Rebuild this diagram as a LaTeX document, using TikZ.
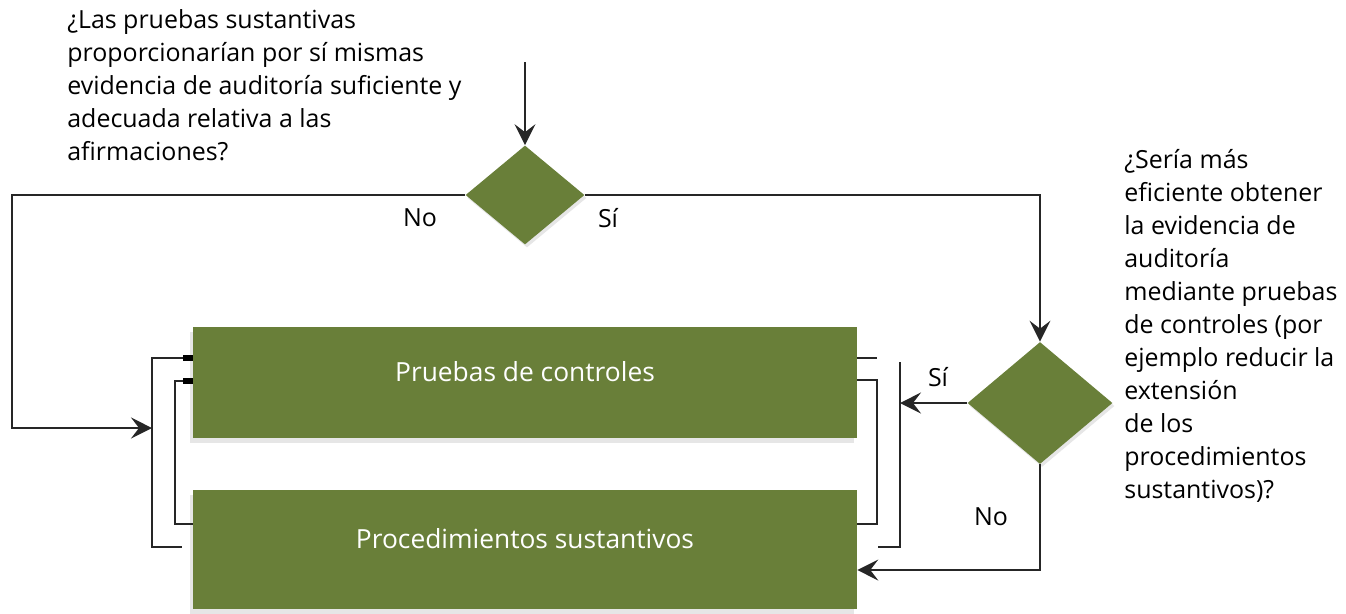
\documentclass[tikz,border=0pt]{standalone}
\usepackage{fontspec}
\setmainfont{Open Sans}
\usetikzlibrary{shapes.geometric,arrows.meta,shadows}

\definecolor{olivo}{RGB}{105,127,57}

\begin{document}
\begin{tikzpicture}[x=0.02cm, y=-0.02cm, font=\fontsize{14.2}{18.8}\selectfont,
    caja/.style={fill=olivo, text=white, minimum width=13.28cm, inner sep=0pt, text depth=0.45cm,
      font=\fontsize{15}{18}\selectfont,
      drop shadow={opacity=0.2, shadow xshift=-0.06cm, shadow yshift=-0.1cm}},
    rombo/.style={diamond, fill=olivo, inner sep=0pt,
      drop shadow={opacity=0.2, shadow xshift=0.04cm, shadow yshift=-0.06cm}},
    linea/.style={draw=black!85, line width=0.9pt},
    flecha/.style={linea, -{Stealth[length=4.2mm, width=4.2mm, inset=1.6mm]}},
    pregunta/.style={align=left, inner sep=0pt, anchor=north west}]

    \useasboundingbox (0,0) rectangle (1346,613);

    % cajas
    \node[caja, minimum height=2.22cm] (pruebas) at (525,382.5) {Pruebas de controles};
    \node[caja, minimum height=2.38cm] (sustantivos) at (525,549.5) {Procedimientos sustantivos};

    % decisiones
    \node[rombo, minimum width=2.38cm, minimum height=1.98cm] (d1) at (525,195) {};
    \node[rombo, minimum width=2.9cm, minimum height=2.44cm] (d2) at (1040,403) {};

    % preguntas
    \node[pregunta] (q1) at (67,9) {¿Las pruebas sustantivas\\proporcionarían por sí mismas\\evidencia de auditoría suficiente y\\adecuada relativa a las\\afirmaciones?};
    \node[pregunta] (q2) at (1124,149) {¿Sería más\\eficiente obtener\\la evidencia de\\auditoría\\mediante pruebas\\de controles (por\\ejemplo reducir la\\extensión\\de los\\procedimientos\\sustantivos)?};

    % corchetes
    \coordinate (izq) at (152,428);
    \coordinate (der) at (900,403);
    \draw[linea] (193,358) -- (152,358) -- (152,547) -- (182,547);
    \draw[linea] (193,381) -- (175,381) -- (175,524) -- (193,524);
    \draw[line width=3pt] (183,358) -- (193,358) (183,381) -- (193,381);
    \draw[linea] (857,358) -- (877,358) (857,380) -- (877,380) -- (877,524) -- (857,524);
    \draw[linea] (900,362) -- (900,547) -- (878,547);

    % conectores
    \coordinate (entrada) at (525,62);
    \draw[flecha] (entrada) -- (d1.north);
    \draw[flecha] (d1.west) -| (12,428) -- (izq);
    \draw[flecha] (d1.east) -| (d2.north);
    \draw[flecha] (d2.west) -- (der);
    \draw[flecha] (d2.south) |- (sustantivos.east |- 0,570);

    % etiquetas
    \node (no1) at (420,218) {No};
    \node (si1) at (608,218) {Sí};
    \node (si2) at (938,377) {Sí};
    \node (no2) at (991,517) {No};
\end{tikzpicture}
\end{document}
